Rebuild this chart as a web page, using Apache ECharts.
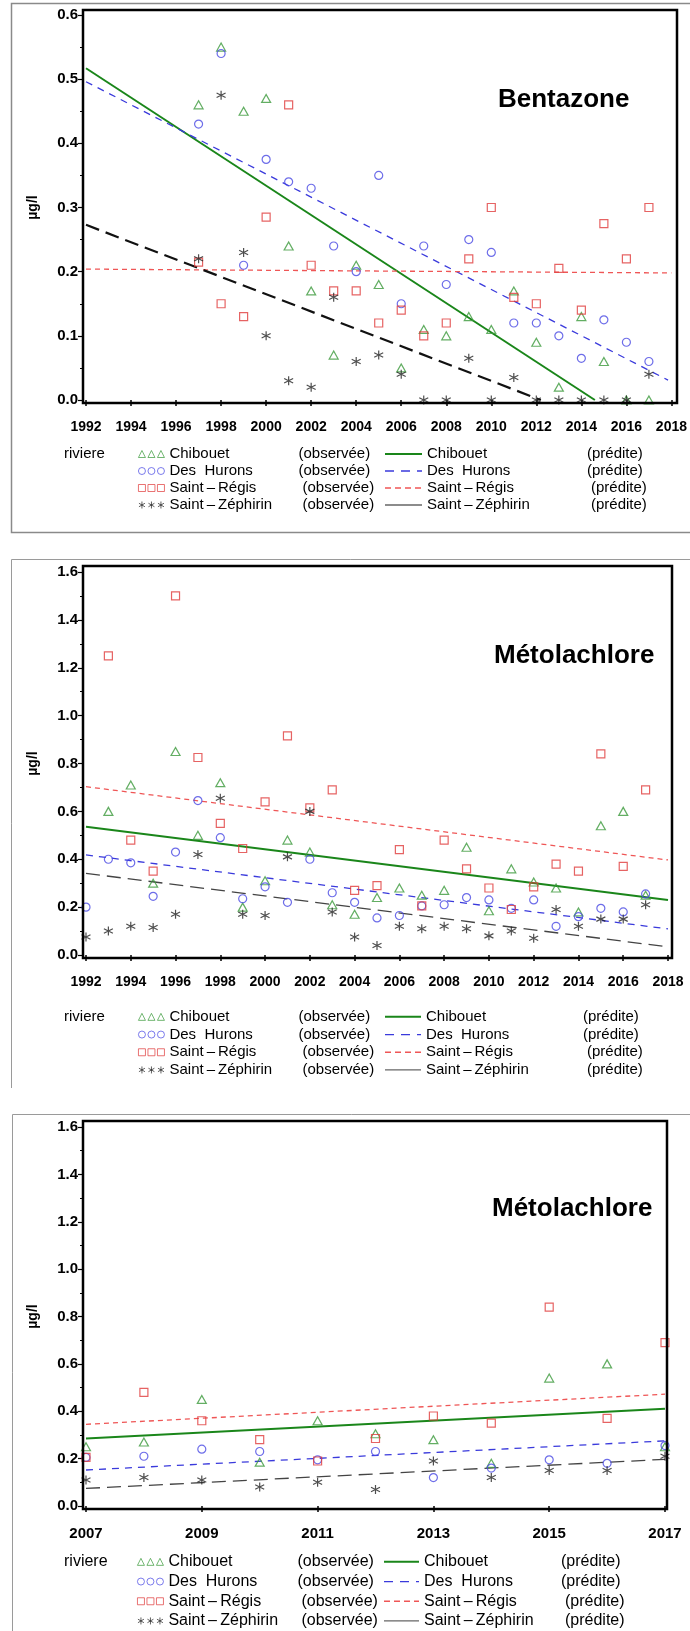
<!DOCTYPE html>
<html>
<head>
<meta charset="utf-8">
<script src="https://cdn.jsdelivr.net/npm/echarts@6/dist/echarts.min.js"></script>
<style>
html,body{margin:0;padding:0;background:#fff}
#chart{width:690px;height:1631px}
</style>
</head>
<body>
<div id="chart"></div>
<script>
//rivieres
var riv = ['Chibouet', 'Des  Hurons', 'Saint\u2009\u2013\u2009Régis', 'Saint\u2009\u2013\u2009Zéphirin'];
//Bentazone observee 1997-2017
var anneesB = [1997,1998,1999,2000,2001,2002,2003,2004,2005,2006,2007,2008,2009,2010,2011,2012,2013,2014,2015,2016,2017];
var bChibouet = [0.46,0.55,0.45,0.47,0.24,0.17,0.07,0.21,0.18,0.05,0.11,0.10,0.13,0.11,0.17,0.09,0.02,0.13,0.06,0,0];
var bHurons   = [0.43,0.54,0.21,0.375,0.34,0.33,0.24,0.20,0.35,0.15,0.24,0.18,0.25,0.23,0.12,0.12,0.10,0.065,0.125,0.09,0.06];
var bRegis    = [0.215,0.15,0.13,0.285,0.46,0.21,0.17,0.17,0.12,0.14,0.10,0.12,0.22,0.30,0.16,0.15,0.205,0.14,0.275,0.22,0.30];
var bZephirin = [0.22,0.475,0.23,0.10,0.03,0.02,0.16,0.06,0.07,0.04,0,0,0.065,0,0.035,0,0,0,0,0,0.04];
//Bentazone predite (debut, fin)
var bPredChibouet = [[1992,0.517],[2014.6,0]];
var bPredHurons   = [[1992,0.496],[2017.85,0.031]];
var bPredRegis    = [[1992,0.204],[2018,0.198]];
var bPredZephirin = [[1992,0.273],[2012.2,0]];
//Metolachlore observee 1992-2017
var anneesM = [1992,1993,1994,1995,1996,1997,1998,1999,2000,2001,2002,2003,2004,2005,2006,2007,2008,2009,2010,2011,2012,2013,2014,2015,2016,2017];
var mChibouet = [null,0.60,0.71,0.30,0.85,0.50,0.72,0.20,0.31,0.48,0.43,0.21,0.17,0.24,0.28,0.25,0.27,0.45,0.185,0.36,0.305,0.28,0.18,0.54,0.60,0.25];
var mHurons   = [0.20,0.40,0.385,0.245,0.43,0.645,0.49,0.235,0.285,0.22,0.40,0.26,0.22,0.155,0.165,0.205,0.21,0.24,0.23,0.195,0.23,0.12,0.16,0.195,0.18,0.255];
var mRegis    = [null,1.25,0.48,0.35,1.50,0.825,0.55,0.445,0.64,0.915,0.615,0.69,0.27,0.29,0.44,0.205,0.48,0.36,0.28,0.19,0.285,0.38,0.35,0.84,0.37,0.69];
var mZephirin = [0.075,0.10,0.12,0.115,0.17,0.42,0.655,0.17,0.165,0.41,0.60,0.18,0.075,0.04,0.12,0.11,0.12,0.11,0.08,0.10,0.07,0.19,0.12,0.15,0.15,0.21];
//Metolachlore predite 1992-2018
var mPredChibouet = [[1992,0.536],[2018,0.230]];
var mPredHurons   = [[1992,0.418],[2018,0.109]];
var mPredRegis    = [[1992,0.703],[2018,0.397]];
var mPredZephirin = [[1992,0.341],[2018,0.034]];
//Metolachlore predite 2007-2017
var m2PredChibouet = [[2007,0.285],[2017,0.411]];
var m2PredHurons   = [[2007,0.152],[2017,0.275]];
var m2PredRegis    = [[2007,0.345],[2017,0.472]];
var m2PredZephirin = [[2007,0.074],[2017,0.197]];
//graduations
var xTicks = [[1992,2018,2],[1992,2018,2],[2007,2017,2]];
var yTicks = [[0,0.6,0.1],[0,1.6,0.2],[0,1.6,0.2]];
var titres = ['Bentazone','Métolachlore','Métolachlore'];

var font = 'Liberation Sans, Arial, sans-serif';
var obsCol = ['#3c9a3c','#4848e4','#e03c3c','#222222'];
var predCol = ['#1a861a','#3a3adc','#ef5656','#111111'];
var starPath = 'path://M5,0L5,10M0.67,2.5L9.33,7.5M0.67,7.5L9.33,2.5';
var syms = ['triangle','circle','rect',starPath];
var symSize = [[9,8],8,8,9];
var legIcons = [
    'path://M0,7L3.5,0L7,7Z M9.5,7L13,0L16.5,7Z M19,7L22.5,0L26,7Z',
    'path://M0,3.5a3.5,3.5 0 1,0 7,0a3.5,3.5 0 1,0 -7,0Z M9.5,3.5a3.5,3.5 0 1,0 7,0a3.5,3.5 0 1,0 -7,0Z M19,3.5a3.5,3.5 0 1,0 7,0a3.5,3.5 0 1,0 -7,0Z',
    'path://M0,0h7v7h-7Z M9.5,0h7v7h-7Z M19,0h7v7h-7Z',
    'path://M3.5,0V7M0.5,1.75L6.5,5.25M0.5,5.25L6.5,1.75 M13,0V7M10,1.75L16,5.25M10,5.25L16,1.75 M22.5,0V7M19.5,1.75L25.5,5.25M19.5,5.25L25.5,1.75'
];

//mise en page des trois panneaux
var grids = [
    {left:86, top:15, width:588, height:385},
    {left:86, top:572, width:582, height:383},
    {left:86, top:1127, width:579, height:379}
];
var frames = [[83,10,594,393],[83,566,589,392],[83,1121,584,388]];
var titrePos = [[498,87],[494,643],[492,1196]];
var legTop = [445.5,1008,1552];
var legLh = [17,17.7,19.7];
var legFont = [15,15,16];
var legObsLeft = [138,138,137];
var legPredLeft = [384,384,383];
var legPredW = [37,36,35];
var obsW = [[129,133],[129,133],[129,133]];
var predW = [[160,164],[157,161],[137,141]];
var noirW = [2.2,1.3,1.3];

function pts(ans, vals) {
    var r = [];
    for (var i = 0; i < ans.length; i++) {
        if (vals[i] != null) r.push([ans[i], vals[i]]);
    }
    return r;
}

var obsData = [
    [bChibouet,bHurons,bRegis,bZephirin],
    [mChibouet,mHurons,mRegis,mZephirin],
    [mChibouet.slice(15),mHurons.slice(15),mRegis.slice(15),mZephirin.slice(15)]
];
var obsAns = [anneesB, anneesM, anneesM.slice(15)];
var predData = [
    [bPredChibouet,bPredHurons,bPredRegis,bPredZephirin],
    [mPredChibouet,mPredHurons,mPredRegis,mPredZephirin],
    [m2PredChibouet,m2PredHurons,m2PredRegis,m2PredZephirin]
];
//echantillons de ligne dans la legende
var legLines = [
    {color: predCol[0], width: 2, type: 'solid'},
    {color: predCol[1], width: 1.3, type: [9, 7]},
    {color: predCol[2], width: 1.3, type: [6, 4]},
    {color: '#666', width: 1.3, type: 'solid'}
];

var xAxes = [], yAxes = [], series = [], titles = [], legends = [], graphics = [];

for (var k = 0; k < 3; k++) {
    xAxes.push({
        gridIndex: k, type: 'value',
        min: xTicks[k][0], max: xTicks[k][1], interval: xTicks[k][2],
        offset: 3,
        axisLine: {show: false},
        axisTick: {show: true, length: 6, lineStyle: {color: '#000', width: 1.5}},
        axisLabel: {color: '#000', fontWeight: 'bold', fontSize: k == 2 ? 15 : 14, fontFamily: font, margin: 17,
            formatter: function (v) { return String(v); }},
        splitLine: {show: false}
    });
    yAxes.push({
        gridIndex: k, type: 'value',
        min: yTicks[k][0], max: yTicks[k][1], interval: yTicks[k][2],
        offset: 3,
        name: 'µg/l', nameLocation: 'middle', nameGap: 43,
        nameTextStyle: {color: '#000', fontWeight: 'bold', fontSize: 14, fontFamily: font},
        axisLine: {show: false},
        axisTick: {show: true, length: 5, lineStyle: {color: '#000', width: 1.2}},
        minorTick: {show: true, splitNumber: 2, length: 3, lineStyle: {color: '#000', width: 1}},
        axisLabel: {color: '#000', fontWeight: 'bold', fontSize: 15, fontFamily: font, margin: 5,
            formatter: function (v) { return v.toFixed(1); }},
        splitLine: {show: false}
    });
    for (var i = 0; i < 4; i++) {
        series.push({
            name: riv[i] + '|obs', type: 'scatter', xAxisIndex: k, yAxisIndex: k,
            data: pts(obsAns[k], obsData[k][i]),
            symbol: syms[i], symbolSize: symSize[i],
            itemStyle: {color: 'rgba(255,255,255,0)', borderColor: obsCol[i], borderWidth: 1.2},
            silent: true, z: 3
        });
    }
    var lstyles = [
        {color: predCol[0], width: 2, type: 'solid'},
        {color: predCol[1], width: 1.3, type: [7, 6]},
        {color: predCol[2], width: 1.3, type: [5, 4]},
        {color: k == 0 ? predCol[3] : '#444', width: noirW[k], type: [14, 7]}
    ];
    for (var i = 0; i < 4; i++) {
        series.push({
            name: riv[i] + '|pred', type: 'line', xAxisIndex: k, yAxisIndex: k,
            data: predData[k][i], symbol: 'none', showSymbol: false,
            itemStyle: {color: lstyles[i].color},
            lineStyle: lstyles[i], silent: true, z: 2
        });
    }
    titles.push({
        text: titres[k], left: titrePos[k][0], top: titrePos[k][1], padding: 0,
        textStyle: {color: '#000', fontSize: 26, fontWeight: 'bold', fontFamily: font}
    });
    titles.push({
        text: 'riviere', left: 64, top: legTop[k], padding: 0,
        textStyle: {color: '#000', fontSize: legFont[k], fontWeight: 'normal', fontFamily: font, lineHeight: legLh[k]}
    });
    //legendes observee / predite
    var dObs = [], dPred = [];
    for (var i = 0; i < 4; i++) {
        dObs.push({name: riv[i] + '|obs', icon: legIcons[i],
            itemStyle: {color: 'rgba(255,255,255,0)', borderColor: obsCol[i], borderWidth: 0.9}});
        dPred.push({name: riv[i] + '|pred',
            itemStyle: {color: 'rgba(255,255,255,0)', borderColor: 'rgba(255,255,255,0)', borderWidth: 0},
            lineStyle: legLines[i]});
    }
    var richObs = {
        n: {width: obsW[k][0], fontSize: legFont[k], fontFamily: font, color: '#000', lineHeight: legLh[k]},
        m: {width: obsW[k][1], fontSize: legFont[k], fontFamily: font, color: '#000', lineHeight: legLh[k]},
        t: {fontSize: legFont[k], fontFamily: font, color: '#000', lineHeight: legLh[k]}
    };
    var richPred = {
        n: {width: predW[k][0], fontSize: legFont[k], fontFamily: font, color: '#000', lineHeight: legLh[k]},
        m: {width: predW[k][1], fontSize: legFont[k], fontFamily: font, color: '#000', lineHeight: legLh[k]},
        t: {fontSize: legFont[k], fontFamily: font, color: '#000', lineHeight: legLh[k]}
    };
    var fmt = function (name) {
        var p = name.split('|');
        var idx = riv.indexOf(p[0]);
        return '{' + (idx > 1 ? 'm' : 'n') + '|' + p[0] + '}{t|' + (p[1] == 'obs' ? '(observée)' : '(prédite)') + '}';
    };
    legends.push({
        orient: 'vertical', left: legObsLeft[k], top: legTop[k], padding: 0, itemGap: 0,
        itemWidth: 26, itemHeight: 7, selectedMode: false,
        data: dObs, formatter: fmt,
        textStyle: {rich: richObs, lineHeight: legLh[k]}
    });
    legends.push({
        orient: 'vertical', left: legPredLeft[k], top: legTop[k], padding: 0, itemGap: 0,
        itemWidth: legPredW[k], itemHeight: 10, selectedMode: false,
        data: dPred, formatter: fmt,
        textStyle: {rich: richPred, lineHeight: legLh[k]}
    });
    graphics.push({
        type: 'rect', z: 100, silent: true,
        shape: {x: frames[k][0], y: frames[k][1], width: frames[k][2], height: frames[k][3]},
        style: {fill: 'none', stroke: '#000', lineWidth: 2.5}
    });
}
//cadres gris
graphics.push({type: 'polyline', z: 100, silent: true,
    shape: {points: [[690, 3.5], [11.5, 3.5], [11.5, 532.5], [690, 532.5]]},
    style: {fill: 'none', stroke: '#8a8a8a', lineWidth: 1.5}});
graphics.push({type: 'polyline', z: 100, silent: true,
    shape: {points: [[11.5, 1088], [11.5, 559.5], [690, 559.5]]},
    style: {fill: 'none', stroke: '#9a9a9a', lineWidth: 1}});
graphics.push({type: 'polyline', z: 100, silent: true,
    shape: {points: [[12.5, 1631], [12.5, 1114.5], [690, 1114.5]]},
    style: {fill: 'none', stroke: '#9a9a9a', lineWidth: 1}});

var chart = echarts.init(document.getElementById('chart'));
chart.setOption({
    animation: false,
    backgroundColor: '#fff',
    title: titles,
    legend: legends,
    grid: grids,
    xAxis: xAxes,
    yAxis: yAxes,
    series: series,
    graphic: graphics
});
</script>
</body>
</html>
